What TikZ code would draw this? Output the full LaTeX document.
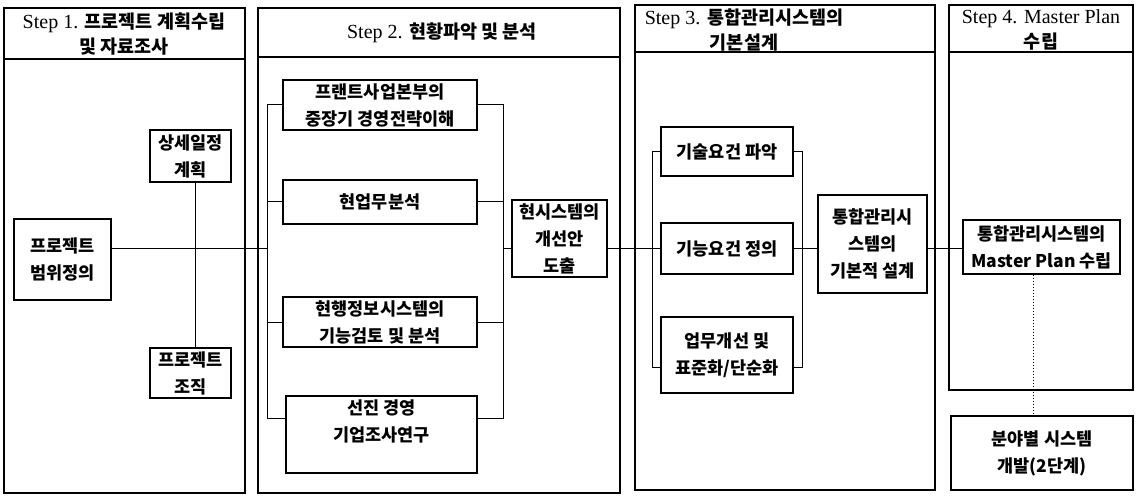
\documentclass[tikz,border=0pt]{standalone}
\usepackage{fontspec}
\setmainfont{Liberation Serif}
\newfontfamily\kr{Noto Sans CJK KR}
\newcommand\hk[1]{{\kr\bfseries\fontsize{18.5}{25}\selectfont #1}}
\begin{document}
\begin{tikzpicture}[x=1pt,y=-1pt,
  panel/.style={draw, line width=1.2pt},
  box/.style={draw, line width=1.2pt, rectangle, inner sep=0pt, align=center,
    font=\kr\bfseries\fontsize{17.5}{27}\selectfont},
  conn/.style={draw, line width=1pt},
  hdr/.style={align=center, inner sep=0pt, font=\fontsize{20}{25}\selectfont}]
\useasboundingbox (0,0) rectangle (1144,497);
\fill[white] (0,0) rectangle (1144,497);

% panels
\draw[panel] (4,8) rectangle (245,493);
\draw[panel] (4,59) -- (245,59);
\draw[panel] (258,8) rectangle (620,493);
\draw[panel] (258,57) -- (620,57);
\draw[panel] (635,5) rectangle (935,490);
\draw[panel] (635,52) -- (935,52);
\draw[panel] (949,5) rectangle (1133,390);
\draw[panel] (949,52) -- (1133,52);

% headers
\node[hdr] (h1) at (124,34) {Step 1. \hk{프로젝트 계획수립}\\\hk{및 자료조사}};
\node[hdr] (h2) at (442,33) {Step 2. \hk{현황파악 및 분석}};
\node[hdr] (h3) at (744,30) {Step 3. \hk{통합관리시스템의}\\\hk{기본설계}};
\node[hdr] (h4) at (1041,30) {Step 4. Master Plan\\\hk{수립}};

% step 1 nodes
\node[box, minimum width=81pt, minimum height=52pt] (sched) at (190.5,156) {상세일정\\계획};
\node[box, minimum width=97pt, minimum height=81pt] (scope) at (62.5,259.5) {프로젝트\\범위정의};
\node[box, minimum width=81pt, minimum height=50pt] (org) at (190.5,373) {프로젝트\\조직};

% step 2 nodes
\node[box, minimum width=194pt, minimum height=50pt] (plant) at (380,105) {프랜트사업본부의\\중장기 경영전략이해};
\node[box, minimum width=194pt, minimum height=44pt] (work) at (380,202) {현업무분석};
\node[box, minimum width=194pt, minimum height=50pt] (info) at (380,322) {현행정보시스템의\\기능검토 및 분석};
\node[box, minimum width=191pt, minimum height=77pt] (adv) at (381.5,434.5) {선진 경영\\기업조사연구\\\mbox{}};
\node[box, minimum width=95pt, minimum height=77pt] (cur) at (559.5,238.5) {현시스템의\\개선안\\도출};

% step 3 nodes
\node[box, minimum width=132pt, minimum height=49pt] (tech) at (727,151.5) {기술요건 파악};
\node[box, minimum width=132pt, minimum height=51pt] (func) at (727,248.5) {기능요건 정의};
\node[box, minimum width=132pt, minimum height=76pt] (biz) at (727,355) {업무개선 및\\표준화/단순화};
\node[box, minimum width=109pt, minimum height=98pt] (integ) at (872.5,244) {통합관리시\\스템의\\기본적 설계};

% step 4 nodes
\node[box, minimum width=157pt, minimum height=54pt] (master) at (1041.5,247) {통합관리시스템의\\Master Plan 수립};
\node[box, minimum width=182pt, minimum height=74pt] (dev) at (1042,453) {분야별 시스템\\개발(2단계)};

% helper coordinates
\coordinate (j1) at (195,248.5);
\coordinate (bl2) at (267,248.5);
\coordinate (br2) at (503,248.5);
\coordinate (bl3) at (652,248.5);
\coordinate (br3) at (802,248.5);
\coordinate (advL) at ([yshift=16.5pt]adv.west);
\coordinate (advR) at ([yshift=16.5pt]adv.east);
\coordinate (bizL) at ([yshift=-12pt]biz.west);
\coordinate (bizR) at ([yshift=-12pt]biz.east);
\coordinate (dtop) at ([xshift=-8pt]master.south);

% step 1 connectors
\draw[conn] (j1 |- sched.south) -- (j1 |- org.north);
\draw[conn] (scope.east |- j1) -- (bl2);

% step 2 connectors
\draw[conn] (plant.west) -- (plant.west -| bl2) -- (advL -| bl2) -- (advL);
\draw[conn] (work.west) -- (work.west -| bl2);
\draw[conn] (info.west) -- (info.west -| bl2);
\draw[conn] (plant.east) -- (plant.east -| br2) -- (advR -| br2) -- (advR);
\draw[conn] (work.east) -- (work.east -| br2);
\draw[conn] (info.east) -- (info.east -| br2);
\draw[conn] (br2) -- (cur.west |- br2);
\draw[conn] (cur.east |- bl3) -- (bl3);

% step 3 connectors
\draw[conn] (tech.west) -- (tech.west -| bl3) -- (bizL -| bl3) -- (bizL);
\draw[conn] (func.west) -- (func.west -| bl3);
\draw[conn] (tech.east) -- (tech.east -| br3) -- (bizR -| br3) -- (bizR);
\draw[conn] (func.east) -- (func.east -| br3);
\draw[conn] (br3) -- (integ.west |- br3);
\draw[conn] (integ.east |- br3) -- (master.west |- br3);

% step 4 connector
\draw[conn, dotted, line width=0.8pt] (dtop) -- (dtop |- dev.north);
\end{tikzpicture}
\end{document}
